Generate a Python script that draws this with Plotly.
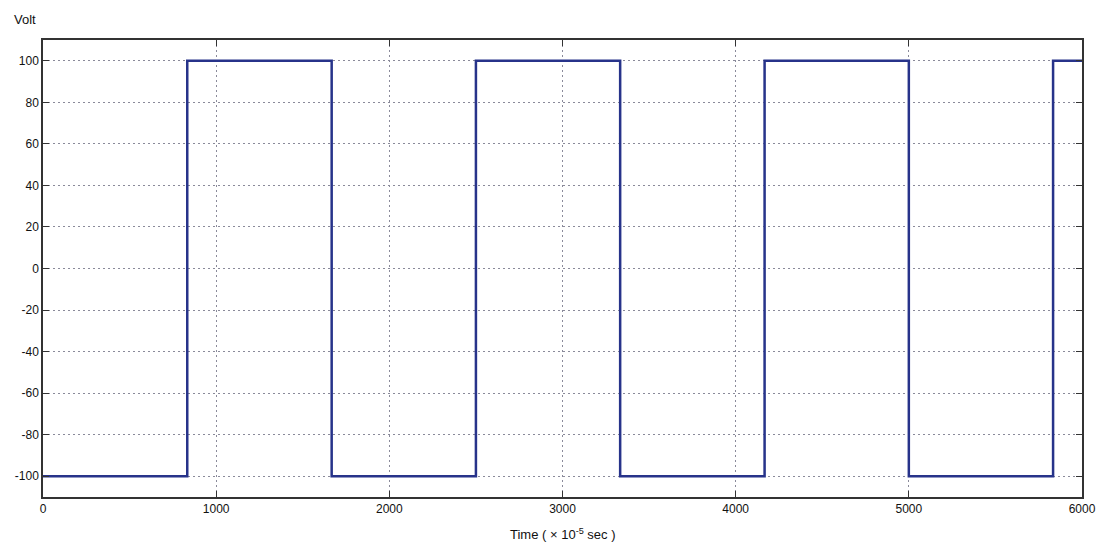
import plotly.graph_objects as go

# Switching instants (x 10^-5 s) and voltage levels (V)
switch_times = [0, 833, 1667, 2500, 3333, 4167, 5000, 5833, 6000]
voltage_levels = [-100, 100, -100, 100, -100, 100, -100, 100, 100]

x_ticks = [0, 1000, 2000, 3000, 4000, 5000, 6000]
y_ticks = [-100, -80, -60, -40, -20, 0, 20, 40, 60, 80, 100]

fig = go.Figure()
fig.add_trace(go.Scatter(
    x=switch_times, y=voltage_levels, mode="lines",
    line=dict(color="#27338a", width=2.5, shape="hv"),
    showlegend=False,
))

font = dict(family="Liberation Sans, Arial, sans-serif", size=12, color="#111")

axis_common = dict(
    showline=True, linecolor="#333", linewidth=1.5, mirror="ticks",
    ticks="inside", ticklen=6, tickcolor="#333",
    showgrid=True, gridcolor="#8a8a9a", griddash="2px,3px", gridwidth=1,
    zeroline=False, automargin=False,
)

fig.update_layout(
    width=1097, height=553,
    margin=dict(l=43, r=15, t=40, b=56),
    paper_bgcolor="white", plot_bgcolor="white",
    font=font,
    xaxis=dict(range=[0, 6000], tickvals=x_ticks,
               ticktext=[str(v) for v in x_ticks], **axis_common),
    yaxis=dict(range=[-110, 110], tickvals=y_ticks,
               ticktext=[str(v) for v in y_ticks], **axis_common),
    annotations=[
        dict(text="Volt", x=-0.03, y=1.045, xref="paper", yref="paper",
             showarrow=False, xanchor="left", yanchor="middle",
             font=dict(size=13, color="#111")),
        dict(text="Time ( × 10<sup>-5</sup> sec )", x=0.5, y=-0.06,
             xref="paper", yref="paper", showarrow=False,
             xanchor="center", yanchor="top", font=dict(size=13, color="#111")),
    ],
)

fig.write_html("out.html")
